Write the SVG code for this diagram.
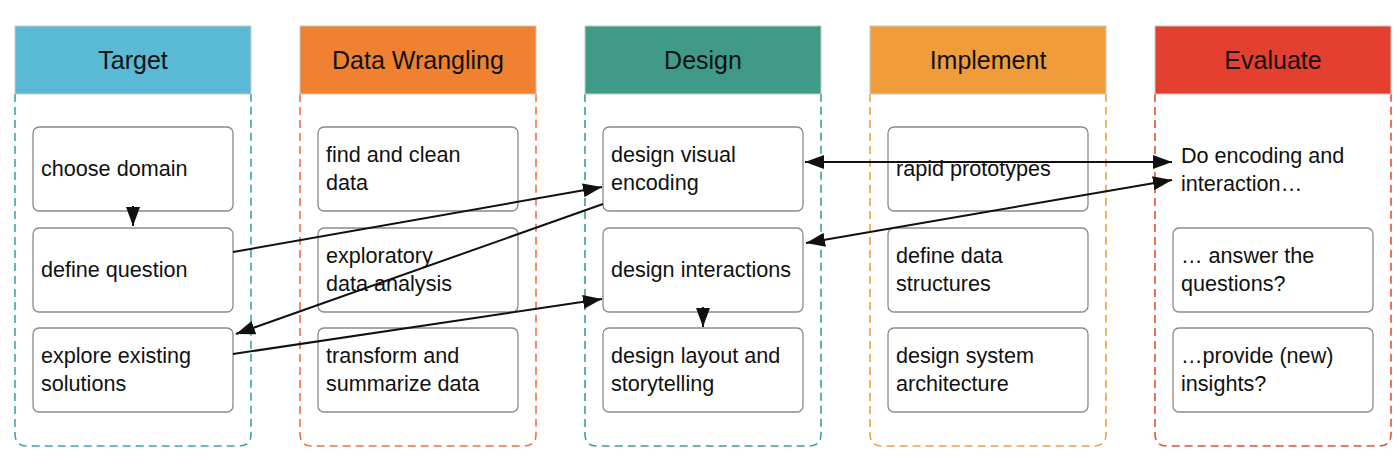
<svg xmlns="http://www.w3.org/2000/svg" width="1400" height="457" viewBox="0 0 1400 457">
<style>
  text { font-family: "Liberation Sans", Arial, Helvetica, sans-serif; fill: #111; }
  .hdr { font-size: 25px; text-anchor: middle; }
  .lbl { font-size: 21.6px; }
  .box { fill: #fff; stroke: #8a8a8a; stroke-width: 1.3; }
  .col { fill: none; stroke-width: 1.6; stroke-dasharray: 8 5; }
  .hrect { stroke: #c8c8c8; stroke-width: 1; }
  .conn { stroke: #111; stroke-width: 2; fill: none; }
</style>
<defs>
  <marker id="ah" markerUnits="userSpaceOnUse" markerWidth="19" markerHeight="14" refX="19" refY="7" orient="auto-start-reverse">
    <path d="M0,0 L19,7 L0,14 z" fill="#111"/>
  </marker>
</defs>
<rect width="1400" height="457" fill="#fff"/>

<g id="col-target">
  <path class="col" stroke="#3aa5ae" d="M15,94 V434 Q15,446 27,446 H239 Q251,446 251,434 V94"/>
  <rect class="hrect" x="15" y="26" width="236" height="68" fill="#5ab9d4"/>
  <text class="hdr" x="133" y="69">Target</text>
</g>
<g id="col-wrangling">
  <path class="col" stroke="#f0733a" d="M300,94 V434 Q300,446 312,446 H524 Q536,446 536,434 V94"/>
  <rect class="hrect" x="300" y="26" width="236" height="68" fill="#ef8131"/>
  <text class="hdr" x="418" y="69">Data Wrangling</text>
</g>
<g id="col-design">
  <path class="col" stroke="#3a9f98" d="M585,94 V434 Q585,446 597,446 H809 Q821,446 821,434 V94"/>
  <rect class="hrect" x="585" y="26" width="236" height="68" fill="#3f9b88"/>
  <text class="hdr" x="703" y="69">Design</text>
</g>
<g id="col-implement">
  <path class="col" stroke="#f0a040" d="M870,94 V434 Q870,446 882,446 H1094 Q1106,446 1106,434 V94"/>
  <rect class="hrect" x="870" y="26" width="236" height="68" fill="#f09c3a"/>
  <text class="hdr" x="988" y="69">Implement</text>
</g>
<g id="col-evaluate">
  <path class="col" stroke="#e8502f" d="M1155,94 V434 Q1155,446 1167,446 H1379 Q1391,446 1391,434 V94"/>
  <rect class="hrect" x="1155" y="26" width="236" height="68" fill="#e4402f"/>
  <text class="hdr" x="1273" y="69">Evaluate</text>
</g>

<g id="n-choose-domain"><rect class="box" x="33" y="127" width="200" height="84" rx="6"/><text class="lbl" x="41" y="176">choose domain</text></g>
<g id="n-define-question"><rect class="box" x="33" y="228" width="200" height="84" rx="6"/><text class="lbl" x="41" y="277">define question</text></g>
<g id="n-explore-existing"><rect class="box" x="33" y="328" width="200" height="84" rx="6"/><text class="lbl" x="41" y="363">explore existing</text><text class="lbl" x="41" y="391">solutions</text></g>

<g id="n-find-clean"><rect class="box" x="318" y="127" width="200" height="84" rx="6"/><text class="lbl" x="326" y="162">find and clean</text><text class="lbl" x="326" y="190">data</text></g>
<g id="n-exploratory"><rect class="box" x="318" y="228" width="200" height="84" rx="6"/><text class="lbl" x="326" y="263">exploratory</text><text class="lbl" x="326" y="291">data analysis</text></g>
<g id="n-transform"><rect class="box" x="318" y="328" width="200" height="84" rx="6"/><text class="lbl" x="326" y="363">transform and</text><text class="lbl" x="326" y="391">summarize data</text></g>

<g id="n-visual-encoding"><rect class="box" x="603" y="127" width="200" height="84" rx="6"/><text class="lbl" x="611" y="162">design visual</text><text class="lbl" x="611" y="190">encoding</text></g>
<g id="n-interactions"><rect class="box" x="603" y="228" width="200" height="84" rx="6"/><text class="lbl" x="611" y="277">design interactions</text></g>
<g id="n-layout"><rect class="box" x="603" y="328" width="200" height="84" rx="6"/><text class="lbl" x="611" y="363">design layout and</text><text class="lbl" x="611" y="391">storytelling</text></g>

<g id="n-prototypes"><rect class="box" x="888" y="127" width="200" height="84" rx="6"/><text class="lbl" x="896" y="176">rapid prototypes</text></g>
<g id="n-data-structures"><rect class="box" x="888" y="228" width="200" height="84" rx="6"/><text class="lbl" x="896" y="263">define data</text><text class="lbl" x="896" y="291">structures</text></g>
<g id="n-architecture"><rect class="box" x="888" y="328" width="200" height="84" rx="6"/><text class="lbl" x="896" y="363">design system</text><text class="lbl" x="896" y="391">architecture</text></g>

<g id="n-do-encoding"><text class="lbl" x="1181" y="163">Do encoding and</text><text class="lbl" x="1181" y="191">interaction…</text></g>
<g id="n-answer"><rect class="box" x="1173" y="228" width="200" height="84" rx="6"/><text class="lbl" x="1181" y="263">… answer the</text><text class="lbl" x="1181" y="291">questions?</text></g>
<g id="n-insights"><rect class="box" x="1173" y="328" width="200" height="84" rx="6"/><text class="lbl" x="1181" y="363">…provide (new)</text><text class="lbl" x="1181" y="391">insights?</text></g>

<g id="connectors">
  <line class="conn" x1="133" y1="206" x2="133" y2="226" marker-end="url(#ah)"/>
  <line class="conn" x1="233" y1="252" x2="602" y2="187" marker-end="url(#ah)"/>
  <line class="conn" x1="603" y1="204" x2="236" y2="334" marker-end="url(#ah)"/>
  <line class="conn" x1="233" y1="354" x2="602" y2="299" marker-end="url(#ah)"/>
  <line class="conn" x1="805" y1="162" x2="1172" y2="162" marker-start="url(#ah)" marker-end="url(#ah)"/>
  <line class="conn" x1="806" y1="243" x2="1172" y2="180" marker-start="url(#ah)" marker-end="url(#ah)"/>
  <line class="conn" x1="703" y1="307" x2="703" y2="327" marker-end="url(#ah)"/>
</g>
</svg>
